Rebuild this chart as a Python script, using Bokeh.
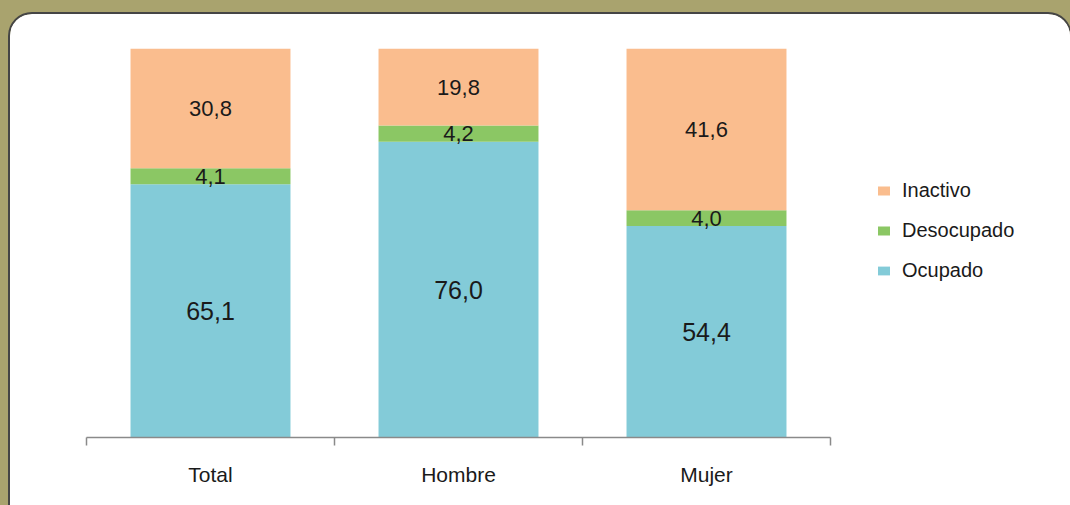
from bokeh.plotting import figure
from bokeh.models import ColumnDataSource, FixedTicker, Legend, LegendItem, Range1d
from bokeh.core.properties import value
from bokeh.embed import file_html
from bokeh.resources import INLINE

# ---- data ----
categories = ["Total", "Hombre", "Mujer"]
series_names = ["Ocupado", "Desocupado", "Inactivo"]
ocupado = [65.1, 76.0, 54.4]
desocupado = [4.1, 4.2, 4.0]
inactivo = [30.8, 19.8, 41.6]

# ---- styles ----
C_OCU = "#83CBD8"
C_DES = "#8BC764"
C_INA = "#FABD8E"
OLIVE = "#A9A36E"
FONT = value("Liberation Sans")

# layout: the plotting area runs on to the right edge so the legend sits inside it;
# the categorical axis itself is bounded to the categories.
FIG_W, FIG_H = 1060, 491
LEFT, TOP, BOTTOM = 76, 34, 68
CAT_PX = 248  # pixels per category
x_end = (FIG_W - LEFT) / CAT_PX

xs = [i + 0.5 for i in range(len(categories))]
src = ColumnDataSource(dict(x=xs, Ocupado=ocupado, Desocupado=desocupado, Inactivo=inactivo))

p = figure(
    width=FIG_W, height=FIG_H,
    x_range=Range1d(0, x_end), y_range=Range1d(0, 100),
    output_backend="svg", toolbar_location=None,
    min_border_left=LEFT, min_border_right=0, min_border_top=TOP, min_border_bottom=BOTTOM,
    y_axis_location=None,
    styles={
        "position": "relative", "left": "10px", "top": "14px",
        "border-radius": "22px 22px 0 0", "overflow": "hidden",
        "box-shadow": "0 0 0 2px #454545, 0 0 0 80px " + OLIVE,
    },
)
p.background_fill_color = "white"
p.border_fill_color = "white"
p.outline_line_color = None
p.grid.visible = False

rs = p.vbar_stack(series_names, x="x", width=0.645, color=[C_OCU, C_DES, C_INA],
                  line_color=None, source=src)

# labels centered in each segment
def fmt(v):
    return f"{v:.1f}".replace(".", ",")

bottoms = [0.0] * len(categories)
sizes = {"Ocupado": "25px", "Desocupado": "22px", "Inactivo": "22px"}
for name, vals in zip(series_names, [ocupado, desocupado, inactivo]):
    mids = [b + v / 2 for b, v in zip(bottoms, vals)]
    p.text(x=xs, y=mids, text=[fmt(v) for v in vals], text_align="center",
           text_baseline="middle", text_font=FONT, text_font_size=sizes[name],
           text_color="#1a1a1a")
    bottoms = [b + v for b, v in zip(bottoms, vals)]

# x axis: ticks at category boundaries, labels at centres
ax = p.xaxis[0]
ax.bounds = (0, len(categories))
ax.ticker = FixedTicker(ticks=xs, minor_ticks=list(range(len(categories) + 1)))
ax.major_label_overrides = {x: c for x, c in zip(xs, categories)}
ax.major_tick_line_color = None
ax.major_tick_out = 0
ax.major_tick_in = 0
ax.minor_tick_line_color = "#8a8a8a"
ax.minor_tick_line_width = 1.5
ax.minor_tick_out = 8
ax.minor_tick_in = 0
ax.axis_line_color = "#8a8a8a"
ax.axis_line_width = 1.5
ax.major_label_standoff = 17
ax.major_label_text_font = "Liberation Sans"
ax.major_label_text_font_size = "21px"
ax.major_label_text_color = "#1a1a1a"

legend = Legend(
    items=[LegendItem(label="Inactivo", renderers=[rs[2]]),
           LegendItem(label="Desocupado", renderers=[rs[1]]),
           LegendItem(label="Ocupado", renderers=[rs[0]])],
    location=(790, 155), orientation="vertical",
    border_line_color=None, background_fill_alpha=0,
    padding=0, margin=0, spacing=17,
    glyph_width=15, glyph_height=11, label_height=20, label_standoff=11,
    label_text_font="Liberation Sans", label_text_font_size="20px",
    label_text_color="#1a1a1a",
)
p.add_layout(legend, "center")

open("out.html", "w").write(file_html(p, INLINE))
